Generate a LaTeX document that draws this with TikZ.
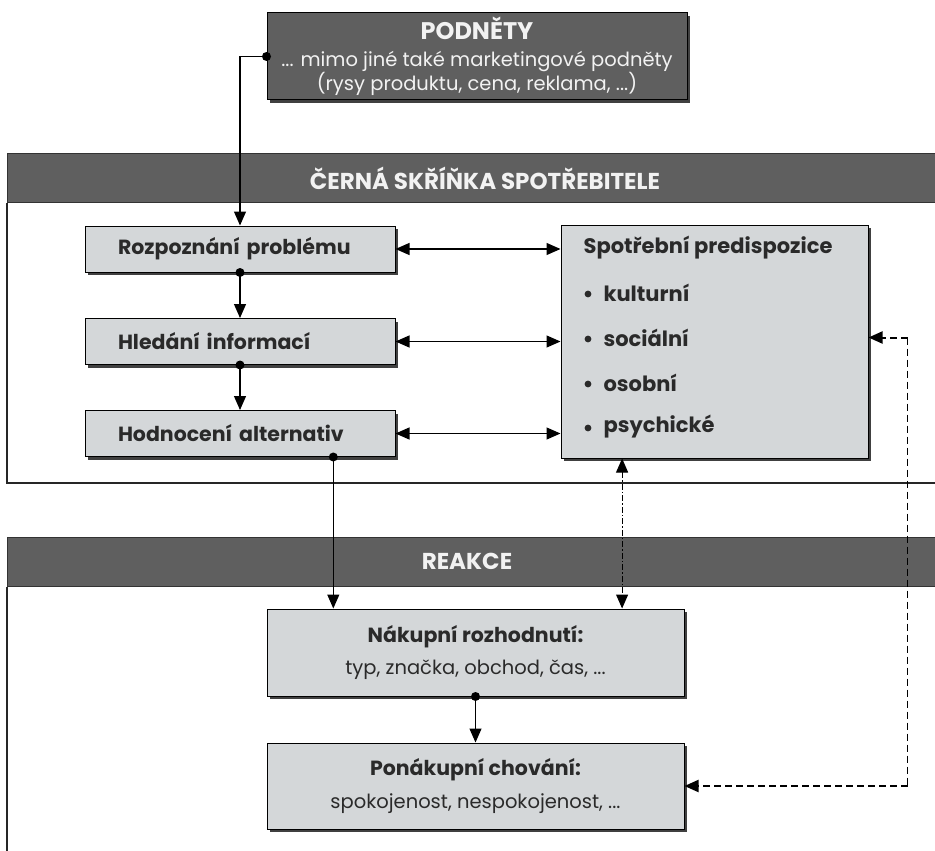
\documentclass[tikz,border=0pt]{standalone}
\usepackage{fontspec}
\setmainfont{Poppins}
\usetikzlibrary{arrows.meta,shadows,calc}
\definecolor{darkbox}{HTML}{5F5F5F}
\definecolor{lightbox}{HTML}{D4D7D9}
\definecolor{lighttext}{HTML}{F2F2F2}
\definecolor{ink}{HTML}{2A2A2A}
\begin{document}
\begin{tikzpicture}[x=1pt,y=-1pt, line width=1.2pt,
  >={Triangle[length=14pt,width=12pt]},
  shadowed/.style={drop shadow={shadow xshift=3pt, shadow yshift=-3pt, fill=black!75, opacity=1}},
  lbox/.style={draw=black, line width=1pt, fill=lightbox, text=ink, inner sep=0pt, shadowed},
  stepbox/.style={lbox, minimum width=310pt, minimum height=46pt, inner xsep=33pt, text width=244pt, align=left, font=\fontsize{20.5}{24}\selectfont\bfseries},
  band/.style={draw=black!80, line width=1pt, fill=darkbox, minimum width=960pt, minimum height=49pt, anchor=north west, inner sep=0pt},
  bandtext/.style={text=lighttext, font=\fontsize{23}{26}\selectfont\bfseries},
  item/.style={anchor=west, text=ink, inner sep=0pt, font=\fontsize{21}{24}\selectfont\bfseries},
  frame/.style={draw=black!85, line width=1.2pt},
  dot/.style={fill=black},
  fbdash/.style={dash pattern=on 7pt off 4pt}
]
\useasboundingbox (0,0) rectangle (935,851);
\clip (0,0) rectangle (935,851);

% top stimulus box
\node[draw=black, line width=1pt, fill=darkbox, text=lighttext, shadowed, minimum width=420pt, minimum height=87pt, align=center, inner sep=0pt, font=\fontsize{19.5}{22}\selectfont] (pod) at (477,56.5)
  {{\fontsize{24}{24}\selectfont\bfseries PODNĚTY}\\[5pt]
   ... mimo jiné také marketingové podněty\\
   (rysy produktu, cena, reklama, ...)};

% black box section
\node[band] (band1) at (7,153) {};
\node[bandtext] (band1t) at (485,178) {ČERNÁ SKŘÍŇKA SPOTŘEBITELE};
\draw[frame] (band1.south west) -- (7,483) -- (940,483);

\node[stepbox] (rozp) at (240,249) {Rozpoznání problému};
\node[stepbox] (hled) at (240,341.5) {Hledání informací};
\node[stepbox] (hodn) at (240,433.5) {Hodnocení alternativ};

\node[lbox, minimum width=307pt, minimum height=233pt] (pred) at (714.5,341.5) {};
\node[item] (predt) at (583,248) {Spotřební predispozice};
\node[item] (i1) at (603,293) {kulturní};
\node[item] (i2) at (603,338) {sociální};
\node[item] (i3) at (603,383) {osobní};
\node[item] (i4) at (603,427) {psychické};
\foreach \n in {i1,i2,i3,i4} \fill[ink] ($(\n.west)+(-15,1)$) circle (3.4pt);

% reaction section
\node[band] (band2) at (7,537) {};
\node[bandtext] (band2t) at (467,561) {REAKCE};
\draw[frame] (band2.south west) -- (7,860);

\node[lbox, minimum width=417pt, minimum height=87pt, align=center] (nak) at (475.5,652.5)
  {{\fontsize{20.5}{24}\selectfont\bfseries Nákupní rozhodnutí:}\\[10pt]
   {\fontsize{19.5}{23}\selectfont typ, značka, obchod, čas, ...}};
\node[lbox, minimum width=417pt, minimum height=86pt, align=center] (ponak) at (475.5,786)
  {{\fontsize{20.5}{24}\selectfont\bfseries Ponákupní chování:}\\[12pt]
   {\fontsize{19.5}{23}\selectfont spokojenost, nespokojenost, ...}};

% connectors
\fill[dot] (pod.west) circle (4.5pt);
\draw[->] (pod.west) -| (rozp.north);

\fill[dot] (rozp.south) circle (4.5pt);
\draw[->] (rozp.south) -- (hled.north);
\fill[dot] (hled.south) circle (4.5pt);
\draw[->] (hled.south) -- (hodn.north);

\draw[<->] (rozp.east) -- (rozp.east -| pred.west);
\draw[<->] (hled.east) -- (hled.east -| pred.west);
\draw[<->] (hodn.east) -- (hodn.east -| pred.west);

\coordinate (hd) at ($(hodn.south west)!0.8!(hodn.south east)$);
\fill[dot] (hd) circle (4.5pt);
\draw[->] (hd) -- (hd |- nak.north);

\coordinate (pd) at ($(pred.south west)!0.2!(pred.south east)$);
\draw[<->, line width=1pt, dash pattern=on 6pt off 2pt on 1.5pt off 2pt] (pd) -- (pd |- nak.north);

\fill[dot] (nak.south) circle (4.5pt);
\draw[->] (nak.south) -- (ponak.north);

\coordinate (fbt) at ($(pred.east)+(39,-4)$);
\coordinate (fbb) at (fbt |- ponak.east);
\draw[->, fbdash, line width=2pt] (fbt) -- ($(pred.east)+(0,-4)$);
\draw[fbdash, line width=1.1pt] (fbt) -- (fbb);
\draw[->, fbdash, line width=2pt] (fbb) -- (ponak.east);
\end{tikzpicture}
\end{document}
